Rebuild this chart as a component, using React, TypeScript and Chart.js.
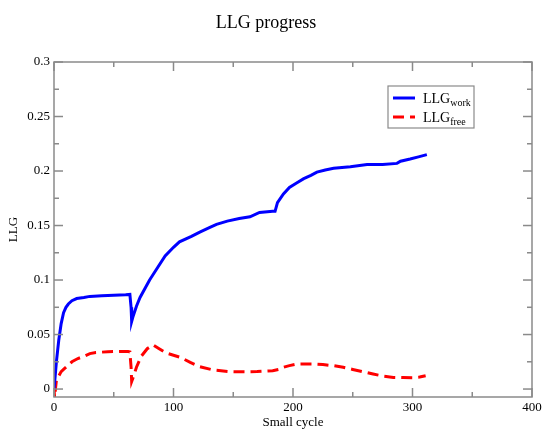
import React, { useEffect, useRef } from "react";
import { Chart, registerables } from "chart.js";

Chart.register(...registerables);

const TITLE = "LLG progress";
const X_LABEL = "Small cycle";
const Y_LABEL = "LLG";

const X_TICKS = [0, 100, 200, 300, 400];
const X_TICK_LABELS = ["0", "100", "200", "300", "400"];
const Y_TICKS = [0, 0.05, 0.1, 0.15, 0.2, 0.25, 0.3];
const Y_TICK_LABELS = ["0", "0.05", "0.1", "0.15", "0.2", "0.25", "0.3"];

const LEGEND_MAIN = ["LLG", "LLG"];
const LEGEND_SUB = ["work", "free"];

const WORK_X = [0, 1, 2, 3, 4, 6, 8, 10, 12, 15, 19, 25, 30, 40, 50, 60, 63.5, 64.5, 65, 66, 69, 72, 76, 80, 87, 93, 100, 105, 115, 122, 130, 136, 145, 155, 164, 172, 183, 185, 187, 192, 197, 203, 209, 215, 220, 227, 234, 248, 262, 275, 287, 290, 298, 305, 312];
const WORK_Y = [0, 0.012, 0.025, 0.035, 0.045, 0.06, 0.07, 0.075, 0.078, 0.081, 0.083, 0.084, 0.085, 0.0855, 0.086, 0.0865, 0.0868, 0.075, 0.062, 0.066, 0.076, 0.084, 0.092, 0.1, 0.112, 0.122, 0.13, 0.135, 0.14, 0.144, 0.148, 0.151, 0.154, 0.1565, 0.158, 0.162, 0.163, 0.163, 0.171, 0.179, 0.185, 0.189, 0.193, 0.196, 0.199, 0.201, 0.2025, 0.204, 0.206, 0.206, 0.207, 0.209, 0.211, 0.213, 0.215];

const FREE_X = [0, 0.6, 1.2, 2, 4, 6, 8, 11, 15, 20, 25, 30, 35, 45, 55, 62, 63.5, 64.5, 65, 67, 69, 73, 78, 83, 88, 94, 100, 106, 114, 122, 133, 147, 160, 170, 183, 188, 192, 197, 203, 210, 217, 225, 234, 242, 250, 258, 267, 275, 284, 292, 300, 306, 311];
const FREE_Y = [0, -0.009, 0.0, 0.008, 0.012, 0.016, 0.018, 0.021, 0.025, 0.028, 0.03, 0.0325, 0.0335, 0.0342, 0.0345, 0.0345, 0.034, 0.02, 0.007, 0.013, 0.02, 0.03, 0.037, 0.0405, 0.037, 0.033, 0.031, 0.029, 0.0245, 0.0205, 0.0175, 0.016, 0.0158, 0.016, 0.0168, 0.018, 0.02, 0.0215, 0.0229, 0.023, 0.023, 0.0225, 0.0214, 0.02, 0.018, 0.016, 0.0138, 0.012, 0.0107, 0.0105, 0.0104, 0.011, 0.0122];

const FONT = "'Liberation Serif', 'Times New Roman', serif";
const FRAME_COLOR = "#8a8a8a";
const BLUE = "#0000ff";
const RED = "#ff0000";
const DASH = [11, 6];

const framePlugin = {
  id: "frameTicksLegend",
  afterDraw(chart: any) {
    const { ctx, chartArea: a, scales } = chart;
    const xs = scales.x;
    const ys = scales.y;
    const line = (x1: number, y1: number, x2: number, y2: number) => {
      ctx.beginPath();
      ctx.moveTo(x1, y1);
      ctx.lineTo(x2, y2);
      ctx.stroke();
    };
    ctx.save();
    ctx.strokeStyle = FRAME_COLOR;
    ctx.lineWidth = 1.5;
    ctx.setLineDash([]);
    ctx.strokeRect(a.left, a.top, a.right - a.left, a.bottom - a.top);

    const MAJ = 9;
    const MIN = 5;
    for (let i = 0; i < X_TICKS.length; i++) {
      const p = xs.getPixelForValue(X_TICKS[i]);
      line(p, a.bottom, p, a.bottom - MAJ);
      line(p, a.top, p, a.top + MAJ);
      if (i < X_TICKS.length - 1) {
        const m = xs.getPixelForValue((X_TICKS[i] + X_TICKS[i + 1]) / 2);
        line(m, a.bottom, m, a.bottom - MIN);
        line(m, a.top, m, a.top + MIN);
      }
    }
    for (let i = 0; i < Y_TICKS.length; i++) {
      const p = ys.getPixelForValue(Y_TICKS[i]);
      line(a.left, p, a.left + MAJ, p);
      line(a.right, p, a.right - MAJ, p);
      if (i < Y_TICKS.length - 1) {
        const m = ys.getPixelForValue((Y_TICKS[i] + Y_TICKS[i + 1]) / 2);
        line(a.left, m, a.left + MIN, m);
        line(a.right, m, a.right - MIN, m);
      }
    }

    // legend
    const bx = a.right - 144;
    const by = a.top + 24;
    const bw = 86;
    const bh = 42;
    ctx.fillStyle = "#ffffff";
    ctx.fillRect(bx, by, bw, bh);
    ctx.strokeStyle = FRAME_COLOR;
    ctx.lineWidth = 1.2;
    ctx.strokeRect(bx, by, bw, bh);

    const colors = [BLUE, RED];
    const dashes = [[], DASH];
    for (let i = 0; i < 2; i++) {
      const ly = by + 12 + i * 19;
      ctx.strokeStyle = colors[i];
      ctx.lineWidth = 3;
      ctx.setLineDash(dashes[i]);
      line(bx + 5, ly, bx + 27, ly);
      ctx.setLineDash([]);
      ctx.fillStyle = "#000000";
      ctx.textBaseline = "alphabetic";
      ctx.textAlign = "left";
      ctx.font = `14px ${FONT}`;
      const tx = bx + 35;
      ctx.fillText(LEGEND_MAIN[i], tx, ly + 4.5);
      const w = ctx.measureText(LEGEND_MAIN[i]).width;
      ctx.font = `10px ${FONT}`;
      ctx.fillText(LEGEND_SUB[i], tx + w, ly + 7.5);
    }
    ctx.restore();
  },
};

export default function App() {
  const ref = useRef<HTMLCanvasElement | null>(null);
  useEffect(() => {
    if (!ref.current) return;
    const chart = new Chart(ref.current, {
      type: "line",
      data: {
        datasets: [
          {
            label: "LLG_work",
            data: WORK_X.map((x, i) => ({ x, y: WORK_Y[i] })),
            borderColor: BLUE,
            backgroundColor: BLUE,
            borderWidth: 3,
            pointRadius: 0,
            tension: 0,
            fill: false,
          },
          {
            label: "LLG_free",
            data: FREE_X.map((x, i) => ({ x, y: FREE_Y[i] })),
            borderColor: RED,
            backgroundColor: RED,
            borderWidth: 3,
            borderDash: DASH,
            pointRadius: 0,
            tension: 0,
            fill: false,
          },
        ],
      },
      options: {
        responsive: false,
        animation: false,
        devicePixelRatio: 1,
        layout: { padding: { left: 0, right: 13, top: 0, bottom: 0 } },
        plugins: {
          legend: { display: false },
          tooltip: { enabled: false },
          title: {
            display: true,
            text: TITLE,
            color: "#000000",
            font: { family: FONT, size: 18, weight: "normal" },
            padding: { top: 12.5, bottom: 27.9 },
          },
        },
        scales: {
          x: {
            type: "linear",
            min: 0,
            max: 400,
            afterBuildTicks: (s: any) => {
              s.ticks = X_TICKS.map((v) => ({ value: v }));
            },
            afterFit: (s: any) => {
              s.height = 33;
            },
            grid: { display: false, drawTicks: false },
            border: { display: false },
            ticks: {
              padding: 3,
              maxRotation: 0,
              autoSkip: false,
              color: "#000000",
              font: { family: FONT, size: 13 },
              callback: (v: any) => {
                const i = X_TICKS.indexOf(Number(v));
                return i >= 0 ? X_TICK_LABELS[i] : "";
              },
            },
            title: {
              display: true,
              text: X_LABEL,
              color: "#000000",
              font: { family: FONT, size: 13 },
              padding: { top: 0, bottom: 0 },
            },
          },
          y: {
            type: "linear",
            min: -0.0073,
            max: 0.3,
            afterBuildTicks: (s: any) => {
              s.ticks = Y_TICKS.map((v) => ({ value: v }));
            },
            afterFit: (s: any) => {
              s.width = 54;
            },
            grid: { display: false, drawTicks: false },
            border: { display: false },
            ticks: {
              padding: 4,
              autoSkip: false,
              color: "#000000",
              font: { family: FONT, size: 13 },
              callback: (v: any) => {
                const i = Y_TICKS.findIndex((t) => Math.abs(t - Number(v)) < 1e-9);
                return i >= 0 ? Y_TICK_LABELS[i] : "";
              },
            },
            title: {
              display: true,
              text: Y_LABEL,
              color: "#000000",
              font: { family: FONT, size: 13 },
              padding: { top: 6, bottom: 0 },
            },
          },
        },
      },
      plugins: [framePlugin],
    });
    return () => chart.destroy();
  }, []);
  return (
    <div style={{ position: "absolute", left: 0, top: 0, width: 545, height: 430, background: "#ffffff" }}>
      <canvas ref={ref} width={545} height={430} style={{ display: "block" }} />
    </div>
  );
}
